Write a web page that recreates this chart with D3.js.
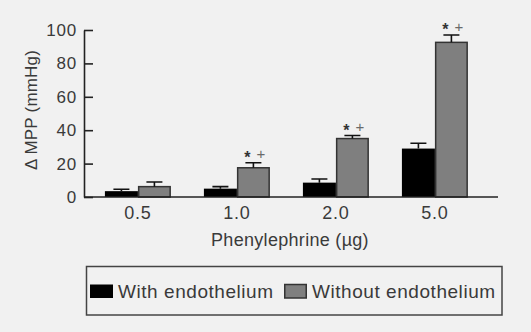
<!DOCTYPE html>
<html><head><meta charset="utf-8">
<script src="https://cdn.jsdelivr.net/npm/d3@7"></script>
<style>
html,body{margin:0;padding:0;background:#f1f1f1;}
svg{display:block;font-family:"Liberation Sans",Arial,sans-serif;}
</style></head>
<body><svg id="c" width="531" height="332"></svg>
<script>
const categories = ["0.5", "1.0", "2.0", "5.0"];
const seriesNames = ["With endothelium", "Without endothelium"];
const withEndo = [3.5, 5, 8.6, 29];
const withEndoErr = [1.1, 1.2, 2.2, 3.2];
const withoutEndo = [6.2, 17.5, 35, 92.6];
const withoutEndoErr = [2.8, 3, 1.8, 4.4];
const significant = [false, true, true, true];
const yTicks = [0, 20, 40, 60, 80, 100];

const svg = d3.select("#c");
const textColor = "#3a3a3a";
const colors = ["#000000", "#7f7f7f"];

const x = d3.scaleBand().domain(categories).range([84, 498])
  .paddingInner(1/3).paddingOuter(0.2576).align(0.41);
const xs = d3.scaleBand().domain(seriesNames).range([0, x.bandwidth()]);
const y = d3.scaleLinear().domain([0, 100]).range([197, 30]);

const rows = categories.map((c, i) => ({
  cat: c,
  vals: [
    {s: seriesNames[0], v: withEndo[i], e: withEndoErr[i], k: 0},
    {s: seriesNames[1], v: withoutEndo[i], e: withoutEndoErr[i], k: 1}
  ],
  sig: significant[i]
}));

// bars
const g = svg.append("g");
const grp = g.selectAll("g.grp").data(rows).join("g")
  .attr("transform", d => `translate(${x(d.cat)},0)`);
grp.selectAll("rect").data(d => d.vals).join("rect")
  .attr("x", d => xs(d.s) + (d.k ? 0.75 : 0))
  .attr("width", d => xs.bandwidth() - (d.k ? 1.5 : 0))
  .attr("y", d => y(d.v))
  .attr("height", d => y(0) - y(d.v))
  .attr("fill", d => colors[d.k])
  .attr("stroke", d => d.k ? "#333" : "none")
  .attr("stroke-width", 1.5);
// error bars
grp.selectAll("path.err").data(d => d.vals).join("path")
  .attr("class", "err")
  .attr("d", d => {
    const cx = xs(d.s) + xs.bandwidth() / 2;
    return `M${cx},${y(d.v)}V${y(d.v + d.e)}M${cx - 8},${y(d.v + d.e)}H${cx + 8}`;
  })
  .attr("stroke", "#111").attr("stroke-width", 1.6).attr("fill", "none");

// significance marks
const sigG = grp.filter(d => d.sig);
sigG.append("text")
  .attr("x", d => xs(seriesNames[1]) + xs.bandwidth() / 2 - 6)
  .attr("y", d => y(d.vals[1].v + d.vals[1].e))
  .attr("text-anchor", "middle").attr("font-size", 16).attr("font-weight", "bold")
  .attr("fill", "#333").text("*");
sigG.append("text")
  .attr("x", d => xs(seriesNames[1]) + xs.bandwidth() / 2 + 7.5)
  .attr("y", d => y(d.vals[1].v + d.vals[1].e) - 3.5)
  .attr("text-anchor", "middle").attr("font-size", 15)
  .attr("fill", "#6a6a6a").text("+");

// y axis
const yAxis = svg.append("g").attr("transform", "translate(84,0)")
  .call(d3.axisLeft(y).tickValues(yTicks).tickSizeInner(-9).tickSizeOuter(0).tickPadding(7));
yAxis.select(".domain").attr("stroke", "#222").attr("stroke-width", 1.6);
yAxis.selectAll(".tick line").attr("stroke", "#222").attr("stroke-width", 1.6);
yAxis.selectAll(".tick text").attr("fill", textColor).attr("font-size", 17)
  .attr("letter-spacing", 0.8).attr("font-family", "Liberation Sans, Arial, sans-serif");

// x axis
const xAxis = svg.append("g").attr("transform", "translate(0,197)")
  .call(d3.axisBottom(x).tickSize(0).tickPadding(9));
xAxis.select(".domain").attr("stroke", "#222").attr("stroke-width", 1.6)
  .attr("d", "M84,0H498");
xAxis.selectAll(".tick text").attr("fill", textColor).attr("font-size", 18)
  .attr("letter-spacing", 0.8).attr("font-family", "Liberation Sans, Arial, sans-serif");

// axis titles
svg.append("text").attr("transform", "translate(37,110) rotate(-90)")
  .attr("text-anchor", "middle").attr("font-size", 17).attr("fill", textColor)
  .attr("letter-spacing", 0.2).text("Δ MPP (mmHg)");
svg.append("text").attr("x", 290).attr("y", 246)
  .attr("text-anchor", "middle").attr("font-size", 18).attr("fill", textColor)
  .attr("letter-spacing", 0.3).text("Phenylephrine (µg)");

// legend
const lg = svg.append("g");
lg.append("rect").attr("x", 86.5).attr("y", 266.5).attr("width", 415.5).attr("height", 48.5)
  .attr("fill", "none").attr("stroke", "#444").attr("stroke-width", 1.5);
const legX = [90, 284];
seriesNames.forEach((s, i) => {
  lg.append("rect").attr("x", legX[i] + (i ? 0.75 : 0)).attr("y", 284.5)
    .attr("width", 23 - (i ? 1.5 : 0)).attr("height", 13.5)
    .attr("fill", colors[i]).attr("stroke", i ? "#333" : "none").attr("stroke-width", 1.5);
  lg.append("text").attr("x", legX[i] + 28).attr("y", 297.5)
    .attr("font-size", 19).attr("fill", textColor).attr("letter-spacing", 0.55).text(s);
});
</script></body></html>
